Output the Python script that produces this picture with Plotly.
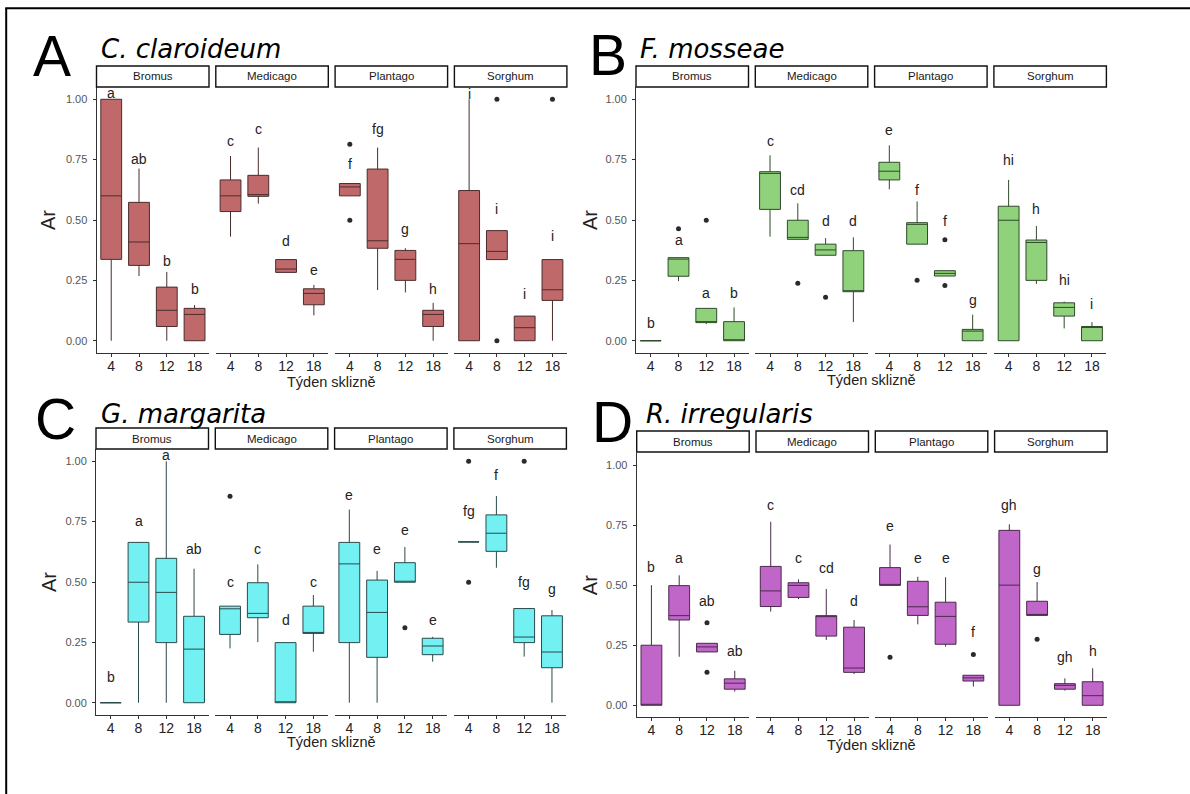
import plotly.graph_objects as go

W, H = 1190, 794

weeks = ["4", "8", "12", "18"]
hosts = ["Bromus", "Medicago", "Plantago", "Sorghum"]
ytick_vals = [0, 0.25, 0.5, 0.75, 1.0]
ytick_text = ["0.00", "0.25", "0.50", "0.75", "1.00"]
x_title = "Týden sklizně"
y_title = "Ar"
panel_tags = ["A", "B", "C", "D"]
panel_species = ["C. claroideum", "F. mosseae", "G. margarita", "R. irregularis"]

# ---------- Panel A : C. claroideum (rows = hosts, cols = weeks) ----------
A_lo = [[0, 0.268, 0, 0], [0.431, 0.568, 0.283, 0.105], [0.600, 0.21, 0.20, 0], [0, 0.336, 0, 0]]
A_q1 = [[0.337, 0.312, 0.059, 0], [0.535, 0.598, 0.283, 0.149], [0.600, 0.383, 0.25, 0.059], [0, 0.336, 0, 0.167]]
A_med = [[0.60, 0.409, 0.126, 0.109], [0.60, 0.605, 0.297, 0.196], [0.637, 0.414, 0.337, 0.109], [0.402, 0.370, 0.054, 0.211]]
A_q3 = [[1.0, 0.573, 0.222, 0.134], [0.666, 0.685, 0.336, 0.215], [0.651, 0.711, 0.374, 0.126], [0.622, 0.456, 0.102, 0.336]]
A_hi = [[1.0, 0.713, 0.285, 0.148], [0.765, 0.80, 0.336, 0.231], [0.651, 0.80, 0.383, 0.157], [1.0, 0.456, 0.102, 0.336]]
A_out = [(2, "4", 0.814), (2, "4", 0.499), (3, "8", 1.0), (3, "8", 0.0), (3, "18", 1.0)]
A_let = [["a", "ab", "b", "b"], ["c", "c", "d", "e"], ["f", "fg", "g", "h"], ["i", "i", "i", "i"]]
A_let_y = [[1.025, 0.751, 0.331, 0.215], [0.826, 0.876, 0.412, 0.293], [0.731, 0.876, 0.461, 0.215], [1.022, 0.544, 0.195, 0.434]]

# ---------- Panel B : F. mosseae ----------
B_lo = [[0, 0.247, 0.069, 0], [0.431, 0.420, 0.354, 0.077], [0.627, 0.40, 0.268, 0], [0, 0.235, 0.051, 0]]
B_q1 = [[0, 0.267, 0.075, 0], [0.544, 0.420, 0.354, 0.203], [0.666, 0.40, 0.268, 0], [0, 0.25, 0.102, 0]]
B_med = [[0, 0.338, 0.075, 0], [0.693, 0.428, 0.376, 0.206], [0.702, 0.482, 0.279, 0.04], [0.499, 0.407, 0.138, 0.059]]
B_q3 = [[0, 0.344, 0.134, 0.079], [0.70, 0.499, 0.40, 0.373], [0.739, 0.489, 0.29, 0.047], [0.557, 0.417, 0.157, 0.059]]
B_hi = [[0, 0.344, 0.134, 0.138], [0.768, 0.569, 0.425, 0.428], [0.809, 0.577, 0.29, 0.108], [0.666, 0.475, 0.162, 0.077]]
B_out = [(0, "8", 0.464), (0, "12", 0.499), (1, "8", 0.238), (1, "12", 0.180), (2, "8", 0.25), (2, "12", 0.418), (2, "12", 0.229)]
B_let = [["b", "a", "a", "b"], ["c", "cd", "d", "d"], ["e", "f", "f", "g"], ["hi", "h", "hi", "i"]]
B_let_y = [[0.075, 0.417, 0.199, 0.199], [0.826, 0.624, 0.497, 0.497], [0.873, 0.624, 0.497, 0.169], [0.749, 0.544, 0.251, 0.152]]

# ---------- Panel C : G. margarita ----------
C_lo = [[0, 0, 0, 0], [0.225, 0.251, 0, 0.211], [0, 0, 0.499, 0.17], [0.666, 0.559, 0.191, 0]]
C_q1 = [[0, 0.334, 0.249, 0], [0.283, 0.352, 0, 0.287], [0.249, 0.188, 0.499, 0.199], [0.666, 0.627, 0.249, 0.145]]
C_med = [[0, 0.499, 0.457, 0.222], [0.389, 0.370, 0, 0.29], [0.575, 0.374, 0.5, 0.235], [0.666, 0.702, 0.272, 0.21]]
C_q3 = [[0, 0.664, 0.598, 0.358], [0.40, 0.497, 0.249, 0.40], [0.664, 0.508, 0.58, 0.267], [0.666, 0.778, 0.39, 0.36]]
C_hi = [[0, 0.664, 1.0, 0.555], [0.40, 0.573, 0.249, 0.446], [0.80, 0.546, 0.645, 0.273], [0.666, 0.856, 0.39, 0.384]]
C_out = [(1, "4", 0.855), (2, "12", 0.311), (3, "4", 1.0), (3, "4", 0.499), (3, "12", 1.0)]
C_let = [["b", "a", "a", "ab"], ["c", "c", "d", "c"], ["e", "e", "e", "e"], ["fg", "f", "fg", "g"]]
C_let_y = [[0.108, 0.754, 1.025, 0.638], [0.501, 0.638, 0.343, 0.501], [0.862, 0.638, 0.715, 0.343], [0.793, 0.943, 0.501, 0.47]]

# ---------- Panel D : R. irregularis ----------
D_lo = [[0, 0.202, 0.222, 0.057], [0.39, 0.442, 0.272, 0.13], [0.499, 0.337, 0.244, 0.078], [0, 0.374, 0.061, 0]]
D_q1 = [[0, 0.355, 0.222, 0.067], [0.411, 0.449, 0.288, 0.137], [0.499, 0.374, 0.254, 0.101], [0, 0.374, 0.067, 0]]
D_med = [[0, 0.373, 0.243, 0.092], [0.476, 0.499, 0.369, 0.155], [0.5, 0.41, 0.37, 0.114], [0.5, 0.377, 0.083, 0.04]]
D_q3 = [[0.25, 0.498, 0.258, 0.11], [0.578, 0.51, 0.373, 0.325], [0.573, 0.516, 0.429, 0.125], [0.728, 0.433, 0.09, 0.098]]
D_hi = [[0.50, 0.541, 0.258, 0.144], [0.764, 0.524, 0.484, 0.355], [0.669, 0.535, 0.533, 0.125], [0.753, 0.513, 0.112, 0.154]]
D_out = [(0, "12", 0.344), (0, "12", 0.137), (2, "4", 0.20), (2, "18", 0.211), (3, "8", 0.275)]
D_let = [["b", "a", "ab", "ab"], ["c", "c", "cd", "d"], ["e", "e", "e", "f"], ["gh", "g", "gh", "h"]]
D_let_y = [[0.574, 0.612, 0.433, 0.227], [0.834, 0.612, 0.573, 0.433], [0.746, 0.612, 0.612, 0.305], [0.835, 0.569, 0.20, 0.227]]

panels = [
    (A_lo, A_q1, A_med, A_q3, A_hi, A_out, A_let, A_let_y),
    (B_lo, B_q1, B_med, B_q3, B_hi, B_out, B_let, B_let_y),
    (C_lo, C_q1, C_med, C_q3, C_hi, C_out, C_let, C_let_y),
    (D_lo, D_q1, D_med, D_q3, D_hi, D_out, D_let, D_let_y),
]

# ---------- styling / geometry (pixels) ----------
fill_colors = ["#C0696B", "#8FD27B", "#72F0F2", "#C066C8"]
line_colors = ["#4a2c2c", "#2f4a2a", "#2a4a4b", "#4a2a4d"]
panel_left = [96.5, 636.0, 96.0, 636.7]
facet_w, facet_gap = 112.5, 6.8
panel_ytop = [87.2, 87.2, 449.2, 453.0]
panel_ybot = [352.8, 352.8, 714.8, 717.3]
strip_top = [66, 66, 428, 431]
strip_bot = [87, 87, 449, 452]
tag_pos = [(51.5, 56), (608, 55), (55, 419), (613, 422)]
species_pos = [(98.7, 49), (637.8, 49), (98.7, 413.5), (643.6, 413.5)]
xtitle_y = [382, 380, 742, 745]
ytitle_x = [48, 590, 49, 590]

FONT = "Liberation Sans, Arial, sans-serif"


def px(x):
    return x / W


def py(y):
    return 1 - y / H


fig = go.Figure()
layout = dict(
    width=W, height=H, margin=dict(l=0, r=0, t=0, b=0),
    paper_bgcolor="white", plot_bgcolor="white",
    showlegend=False, boxmode="overlay",
)
shapes = []
annotations = []

for p, (lo, q1, med, q3, hi, outs, lets, lets_y) in enumerate(panels):
    for h in range(4):
        k = p * 4 + h + 1
        xname = "x" if k == 1 else f"x{k}"
        yname = "y" if k == 1 else f"y{k}"
        xl = panel_left[p] + h * (facet_w + facet_gap)
        xr = xl + facet_w
        layout["xaxis" if k == 1 else f"xaxis{k}"] = dict(
            domain=[px(xl), px(xr)], anchor=yname,
            type="category", categoryorder="array", categoryarray=weeks,
            range=[-0.53, 3.52], showgrid=False, zeroline=False,
            showline=True, linecolor="#333333", linewidth=1,
            ticks="outside", ticklen=3, tickcolor="#333333", tickwidth=1,
            ticklabelstandoff=-3,
            tickfont=dict(size=14, color="#222222", family=FONT),
            fixedrange=True,
        )
        ycfg = dict(
            domain=[py(panel_ybot[p]), py(panel_ytop[p])], anchor=xname,
            range=[-0.05, 1.05], showgrid=False, zeroline=False,
            tickvals=ytick_vals, ticktext=ytick_text, fixedrange=True,
        )
        if h == 0:
            ycfg.update(showline=True, linecolor="#333333", linewidth=1,
                        ticks="outside", ticklen=3, tickcolor="#333333", tickwidth=1,
                        ticklabelstandoff=3,
                        tickfont=dict(size=11, color="#555555", family=FONT))
        else:
            ycfg.update(showline=False, ticks="", showticklabels=False)
        layout["yaxis" if k == 1 else f"yaxis{k}"] = ycfg

        fig.add_trace(go.Box(
            x=weeks, q1=q1[h], median=med[h], q3=q3[h],
            lowerfence=lo[h], upperfence=hi[h],
            xaxis=xname, yaxis=yname,
            fillcolor=fill_colors[p], line=dict(color=line_colors[p], width=1),
            width=0.75, whiskerwidth=0, boxpoints=False, hoverinfo="skip",
        ))

        ox = [o[1] for o in outs if o[0] == h]
        oy = [o[2] for o in outs if o[0] == h]
        if ox:
            fig.add_trace(go.Scatter(
                x=ox, y=oy, mode="markers", xaxis=xname, yaxis=yname,
                marker=dict(size=5, color="#2b2b2b"), hoverinfo="skip",
            ))

        for w, (t, ty) in enumerate(zip(lets[h], lets_y[h])):
            annotations.append(dict(
                x=w, y=ty, xref=xname, yref=yname, text=t,
                showarrow=False, xanchor="center", yanchor="middle",
                font=dict(size=14, color="#222222", family=FONT),
            ))

        # strip
        shapes.append(dict(
            type="rect", xref="paper", yref="paper",
            x0=px(xl), x1=px(xr), y0=py(strip_bot[p]), y1=py(strip_top[p]),
            line=dict(color="#111111", width=1.4), fillcolor="white",
        ))
        annotations.append(dict(
            x=px((xl + xr) / 2), y=py((strip_top[p] + strip_bot[p]) / 2),
            xref="paper", yref="paper", text=hosts[h], showarrow=False,
            xanchor="center", yanchor="middle",
            font=dict(size=11.5, color="#1a1a1a", family=FONT),
        ))

    # panel titles
    cx = (panel_left[p] + panel_left[p] + 4 * facet_w + 3 * facet_gap) / 2
    annotations.append(dict(
        x=px(cx), y=py(xtitle_y[p]), xref="paper", yref="paper", text=x_title,
        showarrow=False, xanchor="center", yanchor="middle",
        font=dict(size=14.5, color="#222222", family=FONT),
    ))
    annotations.append(dict(
        x=px(ytitle_x[p]), y=py((panel_ytop[p] + panel_ybot[p]) / 2),
        xref="paper", yref="paper", text=y_title, textangle=-90,
        showarrow=False, xanchor="center", yanchor="middle",
        font=dict(size=20, color="#222222", family=FONT),
    ))
    annotations.append(dict(
        x=px(tag_pos[p][0]), y=py(tag_pos[p][1]), xref="paper", yref="paper",
        text=panel_tags[p], showarrow=False, xanchor="center", yanchor="middle",
        font=dict(size=57, color="black", family=FONT),
    ))
    annotations.append(dict(
        x=px(species_pos[p][0]), y=py(species_pos[p][1]), xref="paper", yref="paper",
        text=f"<i>{panel_species[p]}</i>", showarrow=False, xanchor="left", yanchor="middle",
        font=dict(size=26, color="black", family="DejaVu Sans, Verdana, sans-serif"),
    ))

# outer frame (top and left only)
shapes.append(dict(type="line", xref="paper", yref="paper",
                   x0=px(5.2), x1=1, y0=py(8.3), y1=py(8.3),
                   line=dict(color="black", width=2)))
shapes.append(dict(type="line", xref="paper", yref="paper",
                   x0=px(6.2), x1=px(6.2), y0=py(8.3), y1=0,
                   line=dict(color="black", width=2)))

layout["shapes"] = shapes
layout["annotations"] = annotations
fig.update_layout(**layout)
fig.write_html("out.html")
